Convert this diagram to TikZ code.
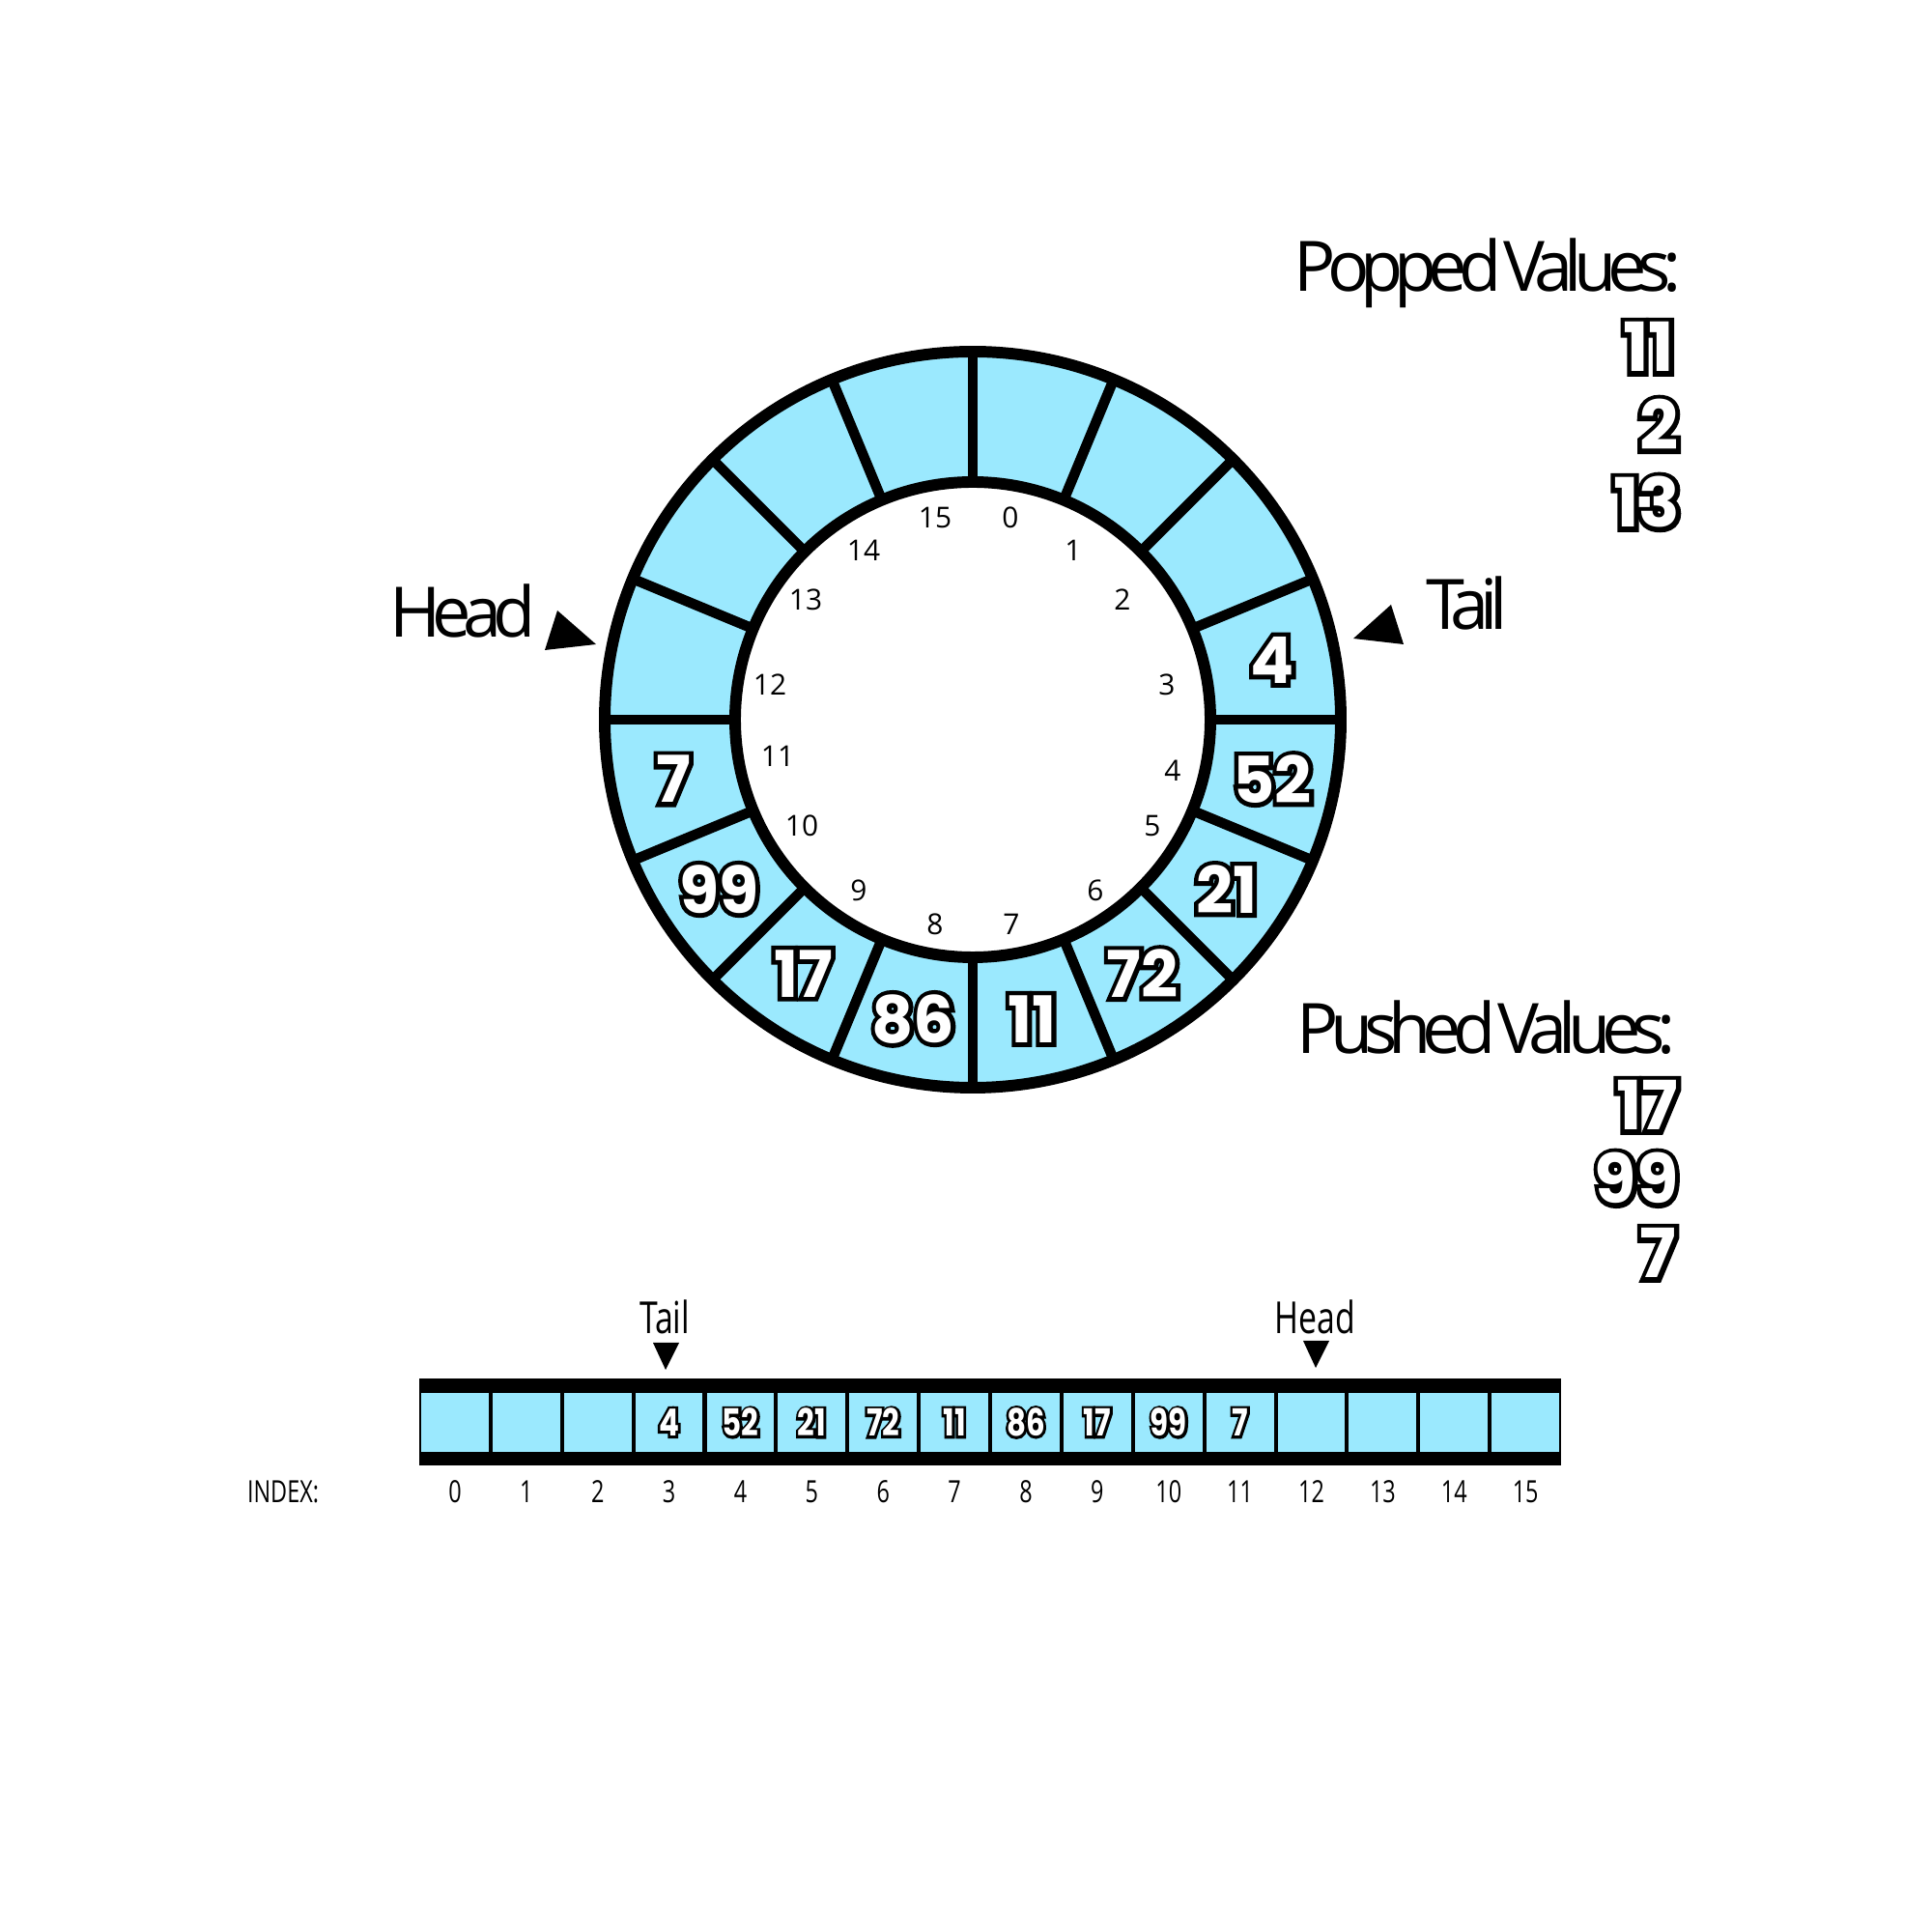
\documentclass[tikz,border=0pt]{standalone}
\usepackage{fontspec}
\setmainfont{Open Sans}
\newfontfamily\valfont{Poppins}
\newfontfamily\valline{Poppins}[BoldFeatures={FakeBold=13.7}]
\newfontfamily\narrowval{Poppins}[FakeStretch=0.8]
\newfontfamily\narrowline{Poppins}[FakeStretch=0.8, BoldFeatures={FakeBold=14}]
\newfontfamily\labfont{Open Sans}[LetterSpace=-12.5, WordSpace=0.2]
\newfontfamily\narrowfont{Open Sans}[FakeStretch=0.74]
\definecolor{slotblue}{RGB}{155,233,254}
\newcommand{\outl}[2]{\makebox[0pt][l]{\textcolor{black}{#1\bfseries #2}}#2}
\tikzset{
  bignum/.style={text=white, font=\valfont\bfseries\fontsize{19}{19}\selectfont},
  listnum/.style={text=white, anchor=base east, inner sep=0pt, font=\valfont\bfseries\fontsize{20}{20}\selectfont},
  bigword/.style={inner sep=0pt, font=\labfont\fontsize{20.5}{21}\selectfont},
  idxnum/.style={font=\fontsize{8.5}{9}\selectfont},
  cellbox/.style={fill=slotblue, minimum width=0.698cm, minimum height=0.61cm, inner sep=0pt},
  cellnum/.style={text=white, font=\narrowval\bfseries\fontsize{11}{11}\selectfont},
  smallword/.style={font=\narrowfont\fontsize{9}{10}\selectfont},
  ptrword/.style={font=\narrowfont\fontsize{13}{13}\selectfont}
}

\begin{document}
\begin{tikzpicture}
\fill[white] (0,0) rectangle (20,20);
\useasboundingbox (0,0) rectangle (20,20);

\begin{scope}[shift={(10.07,12.55)}]
\fill[slotblue, even odd rule] (0,0) circle (3.81) (0,0) circle (2.46);
\foreach \a in {0,22.5,...,337.5}
  \draw[line width=3pt] (\a:2.46) -- (\a:3.81);
\draw[line width=3.4pt] (0,0) circle (3.81) (0,0) circle (2.46);
\foreach \i/\v in {3/4,4/52,5/21,6/72,7/11,8/86,9/17,10/99,11/7}
  \node[bignum] (val\i) at ({78.75-22.5*\i}:3.16) {\outl{\valline}{\v}};
\end{scope}
\foreach \i/\x/\y in {0/10.46/14.64, 1/11.11/14.30, 2/11.62/13.79, 3/12.08/12.91,
    4/12.14/12.02, 5/11.93/11.45, 6/11.34/10.78, 7/10.47/10.43, 8/9.68/10.43,
    9/8.89/10.78, 10/8.30/11.45, 11/8.05/12.17, 12/7.97/12.91, 13/8.34/13.79,
    14/8.94/14.30, 15/9.68/14.64}
  \node[idxnum] (idx\i) at (\x,\y) {\i};

\node[bigword, anchor=base west] (headlbl) at (4.03,13.40) {Head};
\fill (5.77,13.68) -- (5.64,13.27) -- (6.17,13.33) -- cycle;
\node[bigword, anchor=base west] (taillbl) at (14.76,13.48) {Tail};
\fill (14.40,13.74) -- (14.01,13.39) -- (14.53,13.33) -- cycle;

\node[bigword, anchor=base east] (popped) at (17.41,16.98) {Popped Values:};
\node[listnum] (pop1) at (17.34,16.15) {\outl{\valline}{11}};
\node[listnum] (pop2) at (17.38,15.34) {\outl{\valline}{2}};
\node[listnum] (pop3) at (17.40,14.54) {\outl{\valline}{13}};

\node[bigword, anchor=base east] (pushed) at (17.35,9.09) {Pushed Values:};
\node[listnum] (push1) at (17.38,8.30) {\outl{\valline}{17}};
\node[listnum] (push2) at (17.38,7.54) {\outl{\valline}{99}};
\node[listnum] (push3) at (17.36,6.77) {\outl{\valline}{7}};

\fill (4.34,4.83) rectangle (16.16,5.73);
\foreach \i in {0,...,15} {
  \node[cellbox] (cell\i) at ({4.34+0.7388*(\i+0.5)},5.275) {};
  \node[smallword, anchor=base] (num\i) at ({4.34+0.7388*(\i+0.5)},4.44) {\i};
}
\foreach \i/\v in {3/4,4/52,5/21,6/72,7/11,8/86,9/17,10/99,11/7}
  \node[cellnum] (cv\i) at (cell\i) {\outl{\narrowline}{\v}};
\node[smallword, anchor=base] (indexlbl) at (2.93,4.44) {INDEX:};

\node[ptrword, anchor=base] (arrtail) at (6.88,6.19) {Tail};
\fill (6.76,6.10) -- (7.03,6.10) -- (6.89,5.82) -- cycle;
\node[ptrword, anchor=base] (arrhead) at (13.61,6.19) {Head};
\fill (13.49,6.12) -- (13.76,6.12) -- (13.62,5.84) -- cycle;
\end{tikzpicture}
\end{document}
